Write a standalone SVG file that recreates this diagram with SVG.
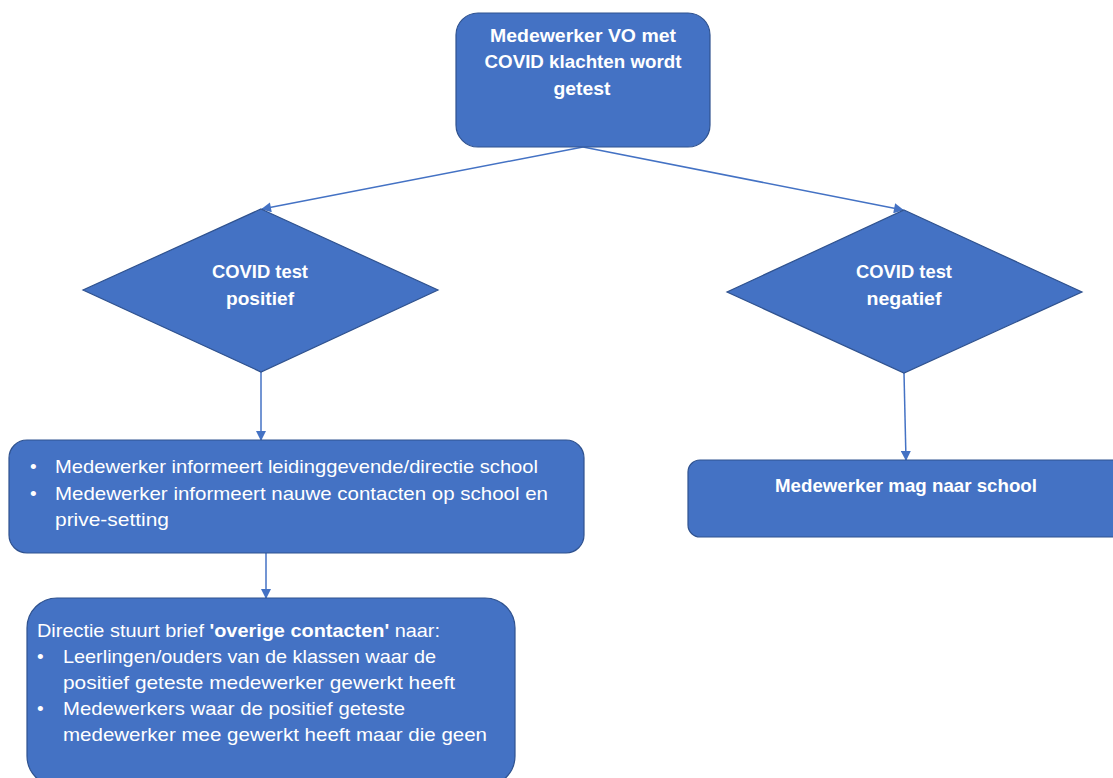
<svg xmlns="http://www.w3.org/2000/svg" width="1113" height="778" viewBox="0 0 1113 778">
<style>
.shape{fill:#4472C4;stroke:#2F528F;stroke-width:1.2}
.t{fill:#fff;font-family:"Liberation Sans",Arial,sans-serif;font-size:19px}
.b{font-weight:bold}
.c{text-anchor:middle}
.conn{stroke:#4472C4;stroke-width:1.5;fill:none}
</style>
<defs>
<marker id="ah" viewBox="0 0 10 10" refX="9" refY="5" markerWidth="11" markerHeight="10" markerUnits="userSpaceOnUse" orient="auto">
<path d="M0,0 L10,5 L0,10 z" fill="#4472C4"/>
</marker>
</defs>
<rect width="1113" height="778" fill="#fff"/>
<g id="connectors">
<line class="conn" x1="583" y1="147" x2="262" y2="209" marker-end="url(#ah)"/>
<line class="conn" x1="583" y1="147" x2="903" y2="210" marker-end="url(#ah)"/>
<line class="conn" x1="261" y1="372" x2="261" y2="440" marker-end="url(#ah)"/>
<line class="conn" x1="904" y1="373" x2="906" y2="460" marker-end="url(#ah)"/>
<line class="conn" x1="266" y1="553" x2="266" y2="598" marker-end="url(#ah)"/>
</g>
<g id="start">
<rect class="shape" x="456" y="13" width="254" height="134" rx="22"/>
<text class="t b c" x="583" y="42" textLength="186" lengthAdjust="spacingAndGlyphs">Medewerker VO met</text>
<text class="t b c" x="583" y="68" textLength="197" lengthAdjust="spacingAndGlyphs">COVID klachten wordt</text>
<text class="t b c" x="582" y="95" textLength="57" lengthAdjust="spacingAndGlyphs">getest</text>
</g>
<g id="positief">
<polygon class="shape" points="261,209 438,290 261,372 83,290"/>
<text class="t b c" x="260" y="278" textLength="96" lengthAdjust="spacingAndGlyphs">COVID test</text>
<text class="t b c" x="260" y="305" textLength="68" lengthAdjust="spacingAndGlyphs">positief</text>
</g>
<g id="negatief">
<polygon class="shape" points="904,210 1082,292 904,373 727,292"/>
<text class="t b c" x="904" y="278" textLength="96" lengthAdjust="spacingAndGlyphs">COVID test</text>
<text class="t b c" x="904" y="305" textLength="75" lengthAdjust="spacingAndGlyphs">negatief</text>
</g>
<g id="informeren">
<rect class="shape" x="9" y="440" width="575" height="113" rx="18"/>
<text class="t" x="30" y="473">•</text>
<text class="t" x="55" y="473" textLength="483" lengthAdjust="spacingAndGlyphs">Medewerker informeert leidinggevende/directie school</text>
<text class="t" x="30" y="500">•</text>
<text class="t" x="55" y="500" textLength="493" lengthAdjust="spacingAndGlyphs">Medewerker informeert nauwe contacten op school en</text>
<text class="t" x="55" y="526" textLength="114" lengthAdjust="spacingAndGlyphs">prive-setting</text>
</g>
<g id="school">
<rect class="shape" x="688" y="460" width="450" height="77" rx="12"/>
<text class="t b c" x="906" y="492" textLength="262" lengthAdjust="spacingAndGlyphs">Medewerker mag naar school</text>
</g>
<g id="brief">
<rect class="shape" x="27" y="598" width="488" height="188" rx="30"/>
<text class="t" x="37" y="637" textLength="403" lengthAdjust="spacingAndGlyphs">Directie stuurt brief <tspan class="b">'overige contacten'</tspan> naar:</text>
<text class="t" x="37" y="663">•</text>
<text class="t" x="63" y="663" textLength="373" lengthAdjust="spacingAndGlyphs">Leerlingen/ouders van de klassen waar de</text>
<text class="t" x="63" y="689" textLength="392" lengthAdjust="spacingAndGlyphs">positief geteste medewerker gewerkt heeft</text>
<text class="t" x="37" y="715">•</text>
<text class="t" x="63" y="715" textLength="342" lengthAdjust="spacingAndGlyphs">Medewerkers waar de positief geteste</text>
<text class="t" x="63" y="741" textLength="424" lengthAdjust="spacingAndGlyphs">medewerker mee gewerkt heeft maar die geen</text>
</g>
</svg>
